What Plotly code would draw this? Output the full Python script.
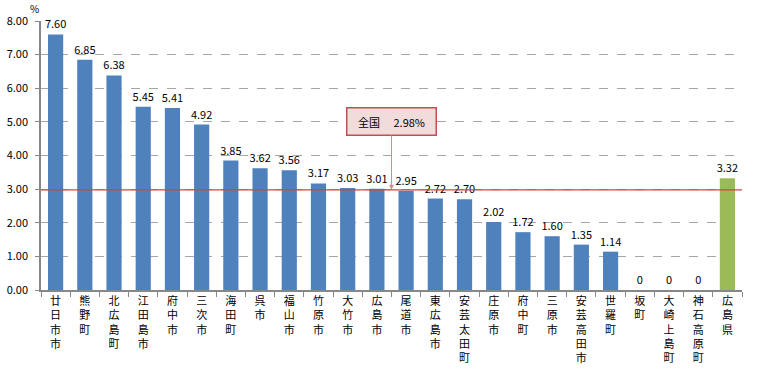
import plotly.graph_objects as go

categories = ["廿日市市", "熊野町", "北広島町", "江田島市", "府中市", "三次市", "海田町", "呉市",
              "福山市", "竹原市", "大竹市", "広島市", "尾道市", "東広島市", "安芸太田町", "庄原市",
              "府中町", "三原市", "安芸高田市", "世羅町", "坂町", "大崎上島町", "神石高原町", "広島県"]
values = [7.60, 6.85, 6.38, 5.45, 5.41, 4.92, 3.85, 3.62, 3.56, 3.17, 3.03, 3.01, 2.95,
          2.72, 2.70, 2.02, 1.72, 1.60, 1.35, 1.14, 0, 0, 0, 3.32]
national = 2.98
y_ticks = [0, 1, 2, 3, 4, 5, 6, 7, 8]

colors = ["#4f81bd"] * (len(categories) - 1) + ["#9bbb59"]
labels = ["0" if v == 0 else f"{v:.2f}" for v in values]
ticktext = ["<br>".join(list(c)) for c in categories]

FONT = "Noto Sans CJK JP"

fig = go.Figure()
fig.add_trace(go.Bar(
    x=categories, y=values, marker=dict(color=colors, line=dict(width=0)),
    text=labels, textposition="outside", cliponaxis=False, constraintext="none",
    textfont=dict(size=11, color="#000000", family=FONT),
    hoverinfo="skip",
))

fig.add_shape(type="line", xref="paper", yref="y", x0=0, x1=1, y0=national, y1=national,
              line=dict(color="#d0453f", width=1.3))

fig.add_annotation(
    x=11.5, y=national, xref="x", yref="y",
    text="全国　 2.98%", showarrow=True, arrowhead=2, arrowsize=1, arrowwidth=1,
    arrowcolor="#d98a88", ax=0, ay=-68,
    bgcolor="#f2dcdb", bordercolor="#c0504d", borderwidth=1.5, borderpad=4,
    width=80, height=18,
    font=dict(size=11, color="#000000", family=FONT),
)

fig.add_annotation(x=0, y=1, xref="paper", yref="paper", xanchor="left", yanchor="bottom",
                   xshift=-13, yshift=3, text="%", showarrow=False,
                   font=dict(size=10, color="#000000", family=FONT))

fig.update_layout(
    width=775, height=378,
    margin=dict(l=41, r=33, t=21, b=88, autoexpand=False),
    plot_bgcolor="white", paper_bgcolor="white",
    bargap=0.48, showlegend=False,
    font=dict(family=FONT, size=11, color="#000000"),
)
fig.update_xaxes(
    tickmode="array", tickvals=categories, ticktext=ticktext,
    ticks="outside", tickson="boundaries", ticklen=5, tickcolor="#878787",
    showline=True, linecolor="#878787", linewidth=1.5, showgrid=False,
    tickangle=0, tickfont=dict(size=11, family=FONT), automargin=False,
)
fig.update_yaxes(
    range=[0, 8], tickvals=y_ticks, ticktext=[f"{t:.2f}" for t in y_ticks],
    showline=True, linecolor="#878787", linewidth=1.5,
    showgrid=True, gridcolor="#a6a6a6", griddash="dash", gridwidth=1,
    ticks="outside", ticklen=4, tickcolor="#878787", ticklabelstandoff=5,
    tickfont=dict(size=11, family=FONT), zeroline=False, automargin=False,
)

fig.write_html("out.html", config={"displayModeBar": False},
               post_script="document.body.style.margin='0';document.body.style.overflow='hidden';")
